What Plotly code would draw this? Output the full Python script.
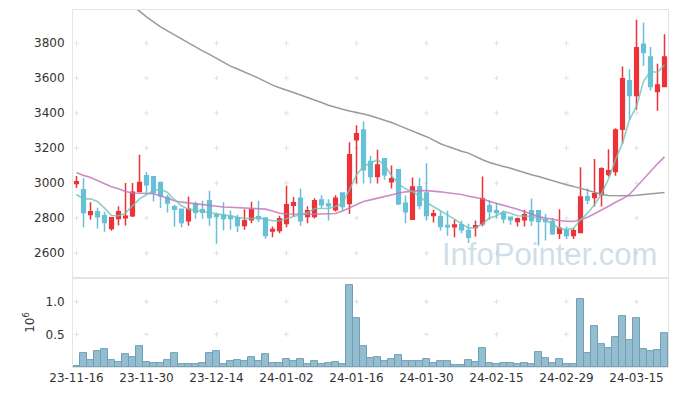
import plotly.graph_objects as go

dates = [
    "2023-11-16","2023-11-17","2023-11-20","2023-11-21","2023-11-22","2023-11-23","2023-11-24","2023-11-27","2023-11-28","2023-11-29",
    "2023-11-30","2023-12-01","2023-12-04","2023-12-05","2023-12-06","2023-12-07","2023-12-08","2023-12-11","2023-12-12","2023-12-13",
    "2023-12-14","2023-12-15","2023-12-18","2023-12-19","2023-12-20","2023-12-21","2023-12-22","2023-12-26","2023-12-27","2023-12-28",
    "2024-01-02","2024-01-03","2024-01-04","2024-01-05","2024-01-08","2024-01-09","2024-01-10","2024-01-11","2024-01-12","2024-01-15",
    "2024-01-16","2024-01-17","2024-01-18","2024-01-19","2024-01-22","2024-01-23","2024-01-24","2024-01-25","2024-01-26","2024-01-29",
    "2024-01-30","2024-01-31","2024-02-01","2024-02-02","2024-02-05","2024-02-06","2024-02-07","2024-02-08","2024-02-13","2024-02-14",
    "2024-02-15","2024-02-16","2024-02-19","2024-02-20","2024-02-21","2024-02-22","2024-02-23","2024-02-26","2024-02-27","2024-02-28",
    "2024-02-29","2024-03-04","2024-03-05","2024-03-06","2024-03-07","2024-03-08","2024-03-11","2024-03-12","2024-03-13","2024-03-14",
    "2024-03-15","2024-03-18","2024-03-19","2024-03-20","2024-03-21",
]

open_ = [2998,2962,2821,2836,2813,2741,2798,2802,2813,2952,
         3042,3036,3004,2918,2865,2851,2785,2882,2848,2899,
         2819,2817,2809,2802,2758,2790,2808,2800,2726,2729,
         2769,2874,2914,2809,2809,2904,2880,2847,2944,2883,
         3247,3304,3124,3038,3139,3007,3076,2885,2794,2979,
         2944,2815,2807,2758,2750,2762,2729,2746,2767,2870,
         2842,2828,2805,2781,2790,2842,2842,2790,2781,2714,
         2733,2701,2718,2922,2918,2933,3049,3066,3308,3585,
         3501,3794,3720,3524,3552]
high = [3040,3028,2891,2859,2836,2806,2867,3000,3000,3162,
        3063,3036,3004,2933,2876,2851,2924,2895,2899,2956,
        2832,2891,2844,2819,2851,2893,2899,2800,2752,2813,
        2985,2920,2968,2867,2914,2931,2908,2931,2944,3234,
        3331,3352,3156,3190,3139,3101,3080,2929,3032,3030,
        3114,2847,2838,2842,2790,2785,2767,2786,3038,2904,
        2886,2842,2805,2804,2847,2912,2842,2823,2800,2851,
        2752,2742,3091,2971,3137,3091,3194,3314,3666,3651,
        3933,3918,3777,3682,3851]
low = [2972,2748,2790,2741,2722,2727,2758,2758,2806,2950,
       2939,2895,2857,2832,2752,2748,2756,2796,2796,2756,
       2653,2729,2733,2720,2733,2771,2777,2682,2691,2714,
       2748,2809,2756,2771,2798,2857,2786,2838,2840,2823,
       2998,2998,2998,2998,3019,2969,2875,2771,2794,2851,
       2786,2775,2729,2699,2691,2714,2657,2695,2754,2790,
       2800,2771,2762,2752,2752,2756,2644,2672,2705,2680,
       2680,2680,2718,2880,2866,2866,3038,3042,3225,3362,
       3419,3670,3529,3413,3552]
close = [3008,2832,2836,2808,2775,2802,2836,2810,2947,3004,
         2990,2948,2928,2886,2851,2775,2851,2834,2834,2804,
         2810,2798,2798,2758,2785,2848,2796,2701,2735,2796,
         2876,2888,2785,2842,2899,2876,2870,2914,2866,3162,
         3282,3076,3038,3104,3047,3025,2882,2836,2977,2872,
         2815,2825,2752,2750,2760,2733,2691,2756,2910,2838,
         2832,2796,2790,2796,2819,2786,2781,2781,2710,2742,
         2701,2727,2920,2904,2939,3082,3070,3304,3596,3501,
         3773,3746,3552,3560,3720]

ma5 = [2935,2910,2910,2895,2857,2815,2813,2828,2870,2910,
       2933,2958,2966,2946,2905,2870,2851,2845,2840,2833,
       2825,2817,2813,2804,2798,2798,2803,2792,2785,2785,
       2798,2809,2819,2830,2855,2856,2855,2866,2885,2962,
       3047,3095,3114,3133,3104,3042,2996,2967,2950,2927,
       2889,2866,2844,2819,2794,2767,2743,2746,2767,2800,
       2813,2838,2828,2813,2809,2809,2800,2790,2765,2742,
       2733,2742,2790,2828,2876,2939,3023,3133,3228,3362,
       3438,3581,3638,3632,3676]
ma20 = [3061,3044,3032,3015,2996,2979,2967,2952,2943,2941,
        2939,2939,2927,2914,2899,2891,2886,2882,2876,2870,
        2865,2863,2862,2860,2858,2856,2854,2851,2840,2828,
        2823,2822,2822,2821,2822,2823,2824,2826,2840,2857,
        2878,2895,2904,2914,2925,2935,2942,2950,2955,2958,
        2957,2955,2950,2945,2940,2935,2925,2918,2910,2895,
        2885,2873,2862,2850,2835,2822,2809,2800,2792,2786,
        2782,2781,2790,2805,2825,2845,2868,2890,2910,2935,
        2980,3020,3065,3110,3150]
ma120 = [None,None,None,None,None,None,None,None,4010,3983,
         3950,3920,3893,3870,3847,3822,3798,3776,3755,3735,
         3714,3693,3668,3652,3636,3620,3600,3580,3560,3545,
         3533,3518,3503,3490,3475,3460,3445,3432,3422,3412,
         3405,3395,3385,3373,3362,3346,3330,3314,3298,3284,
         3265,3245,3225,3210,3195,3182,3171,3150,3133,3118,
         3105,3095,3085,3072,3060,3048,3038,3025,3012,3000,
         2990,2981,2970,2958,2946,2936,2929,2928,2927,2928,
         2930,2933,2937,2942,2946]

volume_m = [0.015,0.215,0.113,0.250,0.267,0.113,0.082,0.200,0.154,0.323,
            0.082,0.062,0.062,0.113,0.215,0.046,0.046,0.046,0.062,0.215,
            0.246,0.046,0.092,0.113,0.092,0.154,0.092,0.200,0.062,0.062,
            0.123,0.092,0.123,0.046,0.092,0.046,0.062,0.077,0.046,1.250,
            0.754,0.323,0.138,0.154,0.092,0.123,0.185,0.092,0.092,0.092,
            0.123,0.062,0.092,0.092,0.031,0.031,0.108,0.077,0.292,0.062,
            0.046,0.062,0.062,0.046,0.062,0.046,0.231,0.138,0.062,0.123,
            0.046,0.046,1.046,0.215,0.631,0.354,0.292,0.462,0.785,0.415,
            0.754,0.277,0.246,0.262,0.523]

price_ticks = [2600, 2800, 3000, 3200, 3400, 3600, 3800]
vol_ticks = [0.5, 1.0]
vol_ticktext = ["0.5", "1.0"]
x_tick_idx = list(range(0, len(dates), 10))
x_ticks = [dates[i] for i in x_tick_idx]
x_ticktext = [d[2:] for d in x_ticks]

UP = "#ec3338"
DOWN = "#67c0d8"
GRID = "#e2e2e2"
FRAME = "#e4e4e4"

fig = go.Figure()

fig.add_trace(go.Scatter(x=dates, y=ma120, mode="lines", xaxis="x", yaxis="y",
                         line=dict(color="#9a9a9a", width=1.5), showlegend=False))
fig.add_trace(go.Scatter(x=dates, y=ma20, mode="lines", xaxis="x", yaxis="y",
                         line=dict(color="rgba(196,120,186,0.85)", width=1.6), showlegend=False))
fig.add_trace(go.Candlestick(x=dates, open=open_, high=high, low=low, close=close,
                             xaxis="x", yaxis="y",
                             increasing=dict(line=dict(color=UP, width=1.5), fillcolor=UP),
                             decreasing=dict(line=dict(color=DOWN, width=1.5), fillcolor=DOWN),
                             whiskerwidth=0, showlegend=False))
fig.add_trace(go.Scatter(x=dates, y=ma5, mode="lines", xaxis="x", yaxis="y",
                         line=dict(color="rgba(110,196,184,0.8)", width=1.6), showlegend=False))
fig.add_trace(go.Bar(x=dates, y=volume_m, xaxis="x2", yaxis="y2",
                     marker=dict(color="rgba(138,182,203,0.9)", line=dict(color="#6f9fb8", width=1)),
                     showlegend=False))

# grid crosses drawn below the data, sized in pixels, anchored at tick positions
shapes = []
def add_cross(xi, yv, xref, yref):
    common = dict(layer="below", xref=xref, yref=yref, xsizemode="pixel", ysizemode="pixel",
                  xanchor=xi, yanchor=yv, line=dict(color=GRID, width=1))
    shapes.append(dict(type="line", x0=-2.5, x1=2.5, y0=0, y1=0, **common))
    shapes.append(dict(type="line", x0=0, x1=0, y0=-2.5, y1=2.5, **common))

for xi in x_tick_idx:
    for yv in price_ticks:
        add_cross(xi, yv, "x", "y")
    for yv in vol_ticks:
        add_cross(xi, yv, "x2", "y2")

split = 0.249
fig.update_layout(
    width=669, height=388,
    margin=dict(l=65, r=9, t=2, b=29, autoexpand=False),
    paper_bgcolor="white", plot_bgcolor="white",
    font=dict(family="DejaVu Sans", size=12, color="#333333"),
    bargap=0,
    boxgap=0.25,
    shapes=shapes,
    xaxis=dict(domain=[0, 1], anchor="y", type="category", range=[-0.5, 84.5],
               categoryorder="array", categoryarray=dates,
               tickvals=x_ticks, ticktext=x_ticktext, showticklabels=False,
               showgrid=False, zeroline=False, rangeslider=dict(visible=False),
               showline=True, linecolor=FRAME, mirror=True, ticks=""),
    yaxis=dict(domain=[split, 1], anchor="x", range=[2457, 3989],
               tickvals=price_ticks, showgrid=False, zeroline=False,
               showline=True, linecolor=FRAME, mirror=True, ticks="", ticklabelstandoff=5),
    xaxis2=dict(domain=[0, 1], anchor="y2", type="category", matches="x", range=[-0.5, 84.5],
                categoryorder="array", categoryarray=dates,
                tickvals=x_ticks, ticktext=x_ticktext, tickangle=0, showgrid=False, zeroline=False,
                showline=True, linecolor=FRAME, mirror=True, ticks=""),
    yaxis2=dict(domain=[0, split], anchor="x2", range=[0, 1.363],
                tickvals=vol_ticks, ticktext=vol_ticktext, showgrid=False, zeroline=False,
                showline=True, linecolor=FRAME, mirror=True, ticks="", ticklabelstandoff=5,
                title=dict(text="10<sup>6</sup>", standoff=8, font=dict(size=12))),
    annotations=[dict(text="InfoPointer.com", xref="paper", yref="paper", x=0.80, y=0.315,
                      showarrow=False, xanchor="center", yanchor="middle",
                      font=dict(family="Liberation Sans", size=31, color="rgba(160,192,210,0.5)"))],
)

fig.write_html("out.html")
